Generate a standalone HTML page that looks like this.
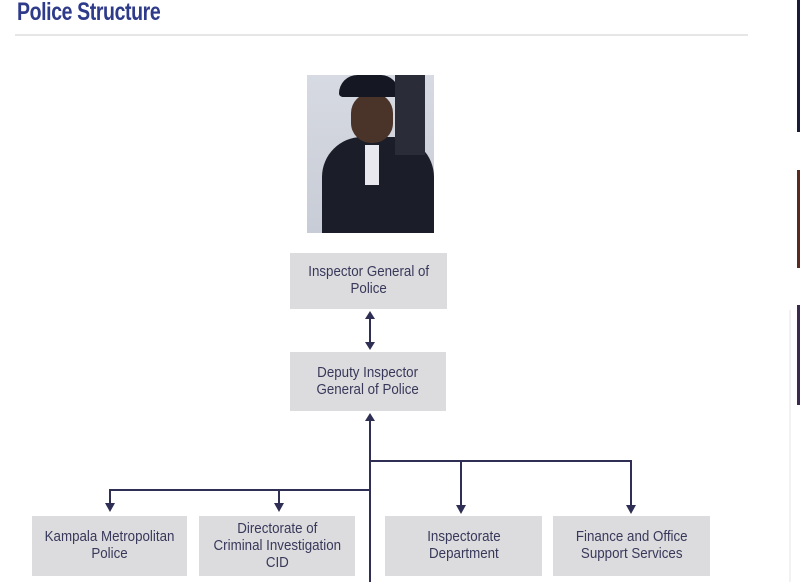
<!DOCTYPE html>
<html><head><style>
body{margin:0;width:800px;height:582px;background:#fff;position:relative;overflow:hidden;font-family:"Liberation Sans",sans-serif}
.t{position:absolute;left:17px;top:-2px;font-size:25px;font-weight:bold;color:#2e3a8a;transform:scaleX(0.78);transform-origin:left;letter-spacing:-0.5px}
.hr{position:absolute;left:15px;top:34px;width:733px;height:2px;background:#e6e6e6}
.b{position:absolute;background:#dcdcdf;color:#38385a;font-size:14.5px;line-height:17px;display:flex;align-items:center;justify-content:center;text-align:center}
.b span{display:inline-block;transform:scaleX(0.92)}
.ph{position:absolute;left:307px;top:75px;width:127px;height:158px;background:linear-gradient(#d7dae2,#c8ccd6);overflow:hidden}
</style></head><body>
<div class="t">Police Structure</div>
<div class="hr"></div>
<div class="ph">
<div style="position:absolute;left:15px;top:62px;width:112px;height:100px;background:#1b1d28;border-radius:40px 40px 0 0"></div>
<div style="position:absolute;left:44px;top:18px;width:42px;height:50px;background:#4a3328;border-radius:20px"></div>
<div style="position:absolute;left:32px;top:0px;width:60px;height:22px;background:#151722;border-radius:20px 20px 4px 4px"></div>
<div style="position:absolute;left:88px;top:0;width:30px;height:80px;background:#2a2c38"></div>
<div style="position:absolute;left:58px;top:70px;width:14px;height:40px;background:#e8e8ee"></div>
</div>
<div class="b" style="left:290px;top:253px;width:157px;height:56px"><span>Inspector General of<br>Police</span></div>
<div class="b" style="left:290px;top:352px;width:156px;height:59px"><span>Deputy Inspector<br>General of Police</span></div>
<div class="b" style="left:32px;top:516px;width:155px;height:60px"><span>Kampala Metropolitan<br>Police</span></div>
<div class="b" style="left:199px;top:516px;width:156px;height:60px"><span>Directorate of<br>Criminal Investigation<br>CID</span></div>
<div class="b" style="left:385px;top:516px;width:157px;height:60px"><span>Inspectorate<br>Department</span></div>
<div class="b" style="left:553px;top:516px;width:157px;height:60px"><span>Finance and Office<br>Support Services</span></div>
<svg width="800" height="582" style="position:absolute;left:0;top:0">
<g stroke="#2f2f55" stroke-width="2" fill="none">
<line x1="370" y1="318" x2="370" y2="343"/>
<line x1="370" y1="420" x2="370" y2="582"/>
<polyline points="370,461 631,461 631,506"/>
<line x1="461" y1="461" x2="461" y2="506"/>
<polyline points="370,490 110,490 110,504"/>
<line x1="279" y1="490" x2="279" y2="504"/>
</g>
<g fill="#2f2f55">
<polygon points="365,319 375,319 370,311"/>
<polygon points="365,342 375,342 370,350"/>
<polygon points="365,421 375,421 370,413"/>
<polygon points="456,505 466,505 461,514"/>
<polygon points="626,505 636,505 631,514"/>
<polygon points="105,503 115,503 110,512"/>
<polygon points="274,503 284,503 279,512"/>
</g>
<rect x="797" y="0" width="3" height="132" fill="#1a1c3a"/>
<rect x="797" y="170" width="3" height="98" fill="#5a2a20"/>
<rect x="797" y="305" width="3" height="100" fill="#3a2a50"/>
<line x1="790" y1="310" x2="790" y2="582" stroke="#e6e6e6"/>
</svg>
</body></html>
